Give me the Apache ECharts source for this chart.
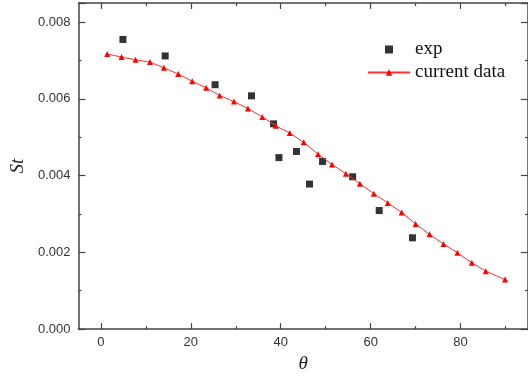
<!DOCTYPE html>
<html>
<head>
<meta charset="utf-8">
<script src="https://cdn.jsdelivr.net/npm/echarts@6/dist/echarts.min.js"></script>
<style>html,body{margin:0;padding:0;background:#fff}#c{width:528px;height:378px}</style>
</head>
<body>
<div id="c"></div>
<script>
// Experimental data (theta, St)
var expTheta = [4.9, 14.3, 25.4, 33.5, 38.4, 39.6, 43.5, 46.4, 49.3, 56.0, 61.9, 69.3];
var expSt = [0.00755, 0.00712, 0.00637, 0.00608, 0.00535, 0.00447, 0.00463, 0.00378, 0.00437, 0.00397, 0.00309, 0.00238];
// Current data (theta, St)
var curTheta = [1.4, 4.6, 7.7, 10.9, 14.0, 17.2, 20.3, 23.4, 26.4, 29.6, 32.7, 35.9, 38.9, 42.0, 45.1, 48.3, 51.4, 54.5, 57.6, 60.7, 63.8, 66.9, 70.0, 73.1, 76.2, 79.3, 82.5, 85.6, 89.9];
var curSt = [0.00717, 0.00709, 0.00702, 0.00696, 0.00681, 0.00665, 0.00646, 0.00629, 0.00609, 0.00593, 0.00575, 0.00553, 0.00530, 0.00511, 0.00487, 0.00456, 0.00429, 0.00405, 0.00379, 0.00353, 0.00329, 0.00304, 0.00274, 0.00247, 0.00222, 0.00199, 0.00173, 0.00151, 0.00129];
var xMajor = [0, 20, 40, 60, 80];
var xMinor = [10, 30, 50, 70, 90];

var axisColor = '#444';
var chart = echarts.init(document.getElementById('c'), null, {renderer: 'canvas'});

function xAx(pos, ticks, len, showLabel, showLine, name) {
  return {
    type: 'value', position: pos, min: -5, max: 95,
    name: name || '', nameLocation: 'middle', nameGap: 21,
    nameTextStyle: {fontFamily: 'Liberation Serif', fontStyle: 'italic', fontSize: 19, color: '#222'},
    axisLine: {show: showLine, onZero: false, lineStyle: {color: axisColor, width: 1.5}},
    axisTick: {show: true, inside: true, length: len, customValues: ticks, lineStyle: {color: axisColor, width: 1.2}},
    axisLabel: {show: showLabel, customValues: ticks, margin: 7, fontFamily: 'Liberation Sans', fontSize: 13, color: '#333'},
    splitLine: {show: false}
  };
}
function yAx(pos, showLabel, name) {
  return {
    type: 'value', position: pos, min: 0, max: 0.0085, interval: 0.002,
    name: name || '', nameLocation: 'middle', nameGap: 47,
    nameTextStyle: {fontFamily: 'Liberation Serif', fontStyle: 'italic', fontSize: 19, color: '#222'},
    axisLine: {show: true, onZero: false, lineStyle: {color: axisColor, width: 1.5}},
    axisTick: {show: true, inside: true, length: 7, lineStyle: {color: axisColor, width: 1.2}},
    minorTick: {show: true, splitNumber: 2, length: 3, lineStyle: {color: axisColor, width: 1.2}},
    axisLabel: {show: showLabel, showMaxLabel: false, margin: 8, fontFamily: 'Liberation Sans', fontSize: 13, color: '#333',
      formatter: function (v) { return v.toFixed(3); }},
    splitLine: {show: false}, minorSplitLine: {show: false}
  };
}

var option = {
  animation: false,
  backgroundColor: '#fff',
  grid: {left: 74, top: 3, right: -7, bottom: 42, containLabel: false},
  legend: {
    orient: 'vertical', left: 362, top: 35, itemWidth: 42, itemHeight: 8, itemGap: 4,
    textStyle: {fontFamily: 'Liberation Serif', fontSize: 19, color: '#111'},
    data: [{name: 'exp', icon: 'path://M0 0H10V10H0Z'}, {name: 'current data'}]
  },
  xAxis: [
    xAx('bottom', xMajor, 6, true, true, 'θ'),
    xAx('bottom', xMinor, 3, false, false),
    xAx('top', xMajor, 6, false, true),
    xAx('top', xMinor, 3, false, false)
  ],
  yAxis: [
    yAx('left', true, 'St'),
    yAx('right', false)
  ],
  series: [
    {
      name: 'current data', type: 'line', xAxisIndex: 0, yAxisIndex: 0,
      data: curTheta.map(function (t, i) { return [t, curSt[i]]; }),
      symbol: 'triangle', symbolSize: 6, showAllSymbol: true,
      lineStyle: {color: '#ff3030', width: 1},
      itemStyle: {color: '#ff0000'}
    },
    {
      name: 'exp', type: 'scatter', xAxisIndex: 0, yAxisIndex: 0,
      data: expTheta.map(function (t, i) { return [t, expSt[i]]; }),
      symbol: 'rect', symbolSize: 7,
      itemStyle: {color: '#000'}
    }
  ]
};
chart.setOption(option);
</script>
</body>
</html>
